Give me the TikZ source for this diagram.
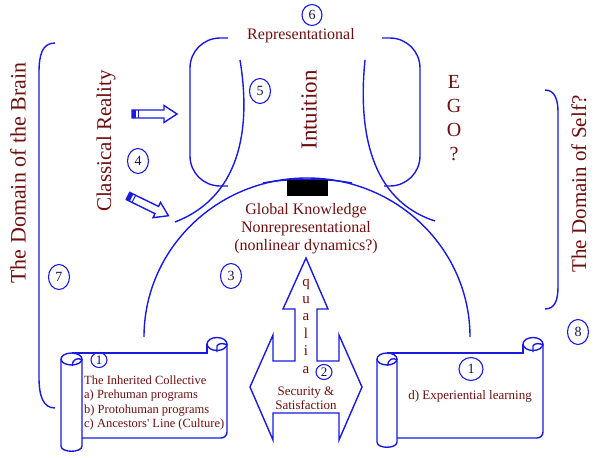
\documentclass[tikz,border=0pt]{standalone}
\usepackage{fontspec}
\setmainfont{Liberation Serif}
\usetikzlibrary{shapes.geometric}

\definecolor{lineblue}{RGB}{25,25,225}
\definecolor{textred}{RGB}{110,15,15}
\definecolor{numnavy}{RGB}{20,20,70}

\newcommand{\pxfont}[2]{\fontsize{#1}{#2}\selectfont}
% #1 roll left, #2 roll width, #3 right edge, #4 roll bottom
\newcommand{\drawscroll}[4]{%
    \draw[curve] (#1,359) -- (#1,{#4-6}) .. controls (#1,{#4+1}) and ({#1+#2},{#4+1}) .. ({#1+#2},{#4-6}) -- ({#1+#2},359);
    \draw[curve] ({#1+#2/2},359) ellipse [x radius={#2/2}, y radius=6];
    \draw[curve] ({#1+#2/2+1},366) .. controls ({#1+#2/2},359) and ({#1+#2-3},357) .. ({#1+#2},360);
    \draw[curve] ({#1+#2/2},353) -- ({#3-20},353) -- ({#3-20},344);
    \draw[curve] ({#3-10},344) ellipse [x radius=10, y radius=6.5];
    \draw[curve] ({#3-10},352) -- ({#3-10},346) .. controls ({#3-9},343) and ({#3-3},343) .. (#3,345);
    \draw[curve, rounded corners=6] (#3,344) -- (#3,438) -- ({#1+#2},438);
}

\begin{document}
\begin{tikzpicture}[x=1pt, y=-1pt,
    curve/.style={draw=lineblue, line width=1.4pt},
    lbl/.style={text=textred, inner sep=0pt},
    num/.style={ellipse, draw=lineblue, line width=1.1pt, text=numnavy, inner sep=0pt,
        minimum width=21pt, minimum height=25pt, font=\pxfont{14}{14}},
    smallnum/.style={num, minimum width=16pt, minimum height=15pt, font=\pxfont{13}{13}}
    ]
    \useasboundingbox (0,0) rectangle (598,458);

    % brackets
    \draw[curve, rounded corners=30] (228,38) -- (190,38) -- (190,186) -- (228,186);
    \draw[curve, rounded corners=30] (382,38) -- (420,38) -- (420,186) -- (384,186);
    \draw[curve] (55,43) .. controls (42,43) and (39,55) .. (39,73) -- (39,377) .. controls (39,396) and (43,408) .. (55,408);
    \draw[curve] (545,90) .. controls (555,90) and (558,100) .. (558,112) -- (558,287) .. controls (558,300) and (555,309) .. (545,309);

    % intuition and dome
    \draw[curve] (240,60) .. controls (250,120) and (245,195) .. (175,222);
    \draw[curve] (365,60) .. controls (358,130) and (370,200) .. (435,221);
    \draw[curve] (144,337) arc[start angle=180, end angle=360, x radius=163, y radius=159];
    \draw[curve] (263,183) .. controls (290,178) and (325,178) .. (352,183);
    \fill (287,180) rectangle (328,196);

    % qualia and security arrows
    \draw[curve] (250,387) -- (273,335) -- (273,361) -- (295,361) -- (295,309) -- (283,309) -- (306,258)
        -- (328,309) -- (317,309) -- (317,361) -- (339,361) -- (339,335) -- (362,387) -- (339,440)
        -- (339,413) -- (273,413) -- (273,440) -- cycle;

    % classical reality arrows
    \begin{scope}[shift={(132,114)}]
    \draw[curve] (0,-4) -- (32,-4) -- (32,-8.5) -- (45,0) -- (32,8.5) -- (32,4) -- (0,4) -- cycle;
    \fill[lineblue] (0,-4) rectangle (4,4);
    \draw[lineblue, line width=1pt] (6.5,-4) -- (6.5,4);
    \end{scope}
    \begin{scope}[shift={(128,196)}, rotate=-26]
    \draw[curve] (0,-4) -- (32,-4) -- (32,-8.5) -- (45,0) -- (32,8.5) -- (32,4) -- (0,4) -- cycle;
    \fill[lineblue] (0,-4) rectangle (4,4);
    \draw[lineblue, line width=1pt] (6.5,-4) -- (6.5,4);
    \end{scope}

    % scrolls
    \drawscroll{61}{21}{227}{452}
    \drawscroll{377}{20}{543}{448}

    % labels
    \node[lbl, font=\pxfont{16}{18}] (repr) at (301,36) {Representational};
    \node[lbl, font=\pxfont{22}{26}, rotate=90] (brain) at (18,173) {The Domain of the Brain};
    \node[lbl, font=\pxfont{21}{25}, rotate=90] (classical) at (106,141) {Classical Reality};
    \node[lbl, font=\pxfont{23}{27}, rotate=90] (intuition) at (309,110) {Intuition};
    \node[lbl, font=\pxfont{21}{25}, rotate=90] (self) at (579,184) {The Domain of Self?};
    \node[lbl, font=\pxfont{20}{24}, align=center] (ego) at (454,118) {E\\G\\O\\?};
    \node[lbl, font=\pxfont{16}{18}, align=center] (global) at (306,229) {Global Knowledge\\Nonrepresentational\\(nonlinear dynamics?)};
    \node[lbl, font=\pxfont{15}{17.4}, align=center] (qualia) at (306,326) {q\\u\\a\\l\\i\\a};
    \node[lbl, font=\pxfont{13}{13.5}, align=center] (security) at (306,398) {Security \&\\Satisfaction};
    \node[lbl, font=\pxfont{12.5}{14.3}, align=left, anchor=west] (inherited) at (84,403)
        {The Inherited Collective\\a) Prehuman programs\\b) Protohuman programs\\c) Ancestors\textquotesingle{} Line (Culture)};
    \node[lbl, font=\pxfont{13}{14}] (experiential) at (470,396) {d) Experiential learning};

    % numbers
    \node[num, minimum width=20pt, minimum height=21pt] (n6) at (312,15) {6};
    \node[num] (n5) at (260,91) {5};
    \node[num] (n4) at (138,161) {4};
    \node[num] (n3) at (231,276) {3};
    \node[num] (n7) at (59,277) {7};
    \node[num] (n8) at (578,332) {8};
    \node[num, minimum width=24pt, minimum height=23pt] (n1b) at (471,369) {1};
    \node[smallnum] (n1a) at (99,360) {1};
    \node[smallnum] (n2) at (324,372) {2};
    %
\end{tikzpicture}
\end{document}
